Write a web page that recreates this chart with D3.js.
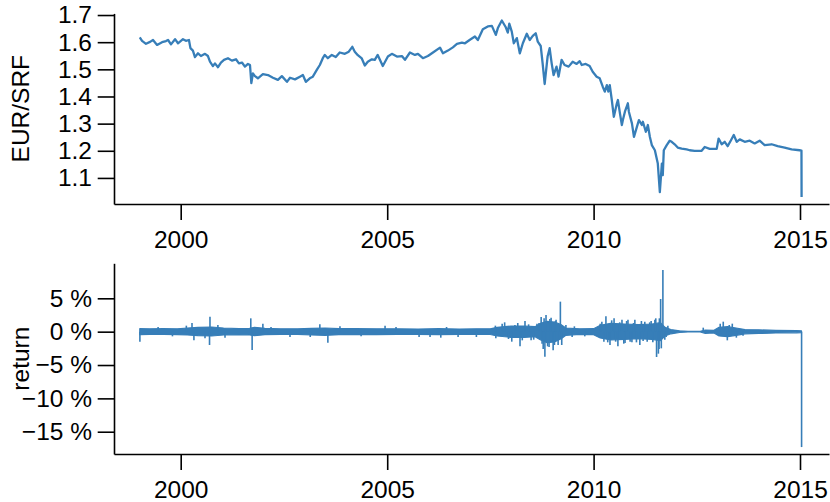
<!DOCTYPE html>
<html>
<head>
<meta charset="utf-8">
<script src="https://cdn.jsdelivr.net/npm/d3@7"></script>
<style>
  body { margin: 0; background: #fff; }
  text { font-family: "Liberation Sans", Arial, Helvetica, sans-serif; }
</style>
</head>
<body>
<svg id="chart" width="830" height="502"></svg>
<script>
// EUR/CHF daily rate, sampled along its course
const priceDates = [
  "1999-01-04","1999-01-24","1999-02-28","1999-04-05","1999-05-01","1999-06-06","1999-07-20","1999-08-24",
  "1999-09-11","1999-10-07","1999-11-12","1999-12-08","2000-01-21","2000-02-16","2000-03-14","2000-03-27",
  "2000-04-18","2000-05-06","2000-06-02","2000-06-28","2000-08-03","2000-08-29","2000-09-16","2000-10-12",
  "2000-10-30","2000-11-26","2000-12-22","2001-01-18","2001-02-22","2001-03-29","2001-05-04","2001-05-30",
  "2001-06-26","2001-07-22","2001-08-18","2001-09-05","2001-09-17","2001-10-01","2001-10-19","2001-11-14",
  "2001-12-28","2002-02-11","2002-03-27","2002-05-10","2002-06-14","2002-07-29","2002-08-25","2002-10-08",
  "2002-11-21","2002-12-17","2003-01-12","2003-02-16","2003-03-15","2003-04-19","2003-05-16","2003-06-11",
  "2003-06-29","2003-07-26","2003-08-30","2003-10-04","2003-11-08","2003-12-23","2004-01-27","2004-02-27",
  "2004-03-20","2004-04-16","2004-05-21","2004-06-17","2004-07-13","2004-08-18","2004-09-13","2004-10-09",
  "2004-11-23","2005-01-07","2005-02-11","2005-03-28","2005-05-11","2005-06-07","2005-07-21","2005-09-03",
  "2005-09-30","2005-11-13","2005-12-27","2006-02-10","2006-04-13","2006-05-09","2006-06-22","2006-08-05",
  "2006-09-10","2006-10-24","2006-11-20","2007-01-03","2007-02-16","2007-03-14","2007-04-27","2007-06-10",
  "2007-07-16","2007-08-20","2007-09-07","2007-10-12","2007-11-16","2007-12-04","2007-12-17","2008-01-08",
  "2008-01-26","2008-02-22","2008-03-19","2008-04-15","2008-05-20","2008-06-15","2008-07-12","2008-08-07",
  "2008-08-25","2008-09-20","2008-10-07","2008-10-25","2008-11-20","2008-12-08","2008-12-26","2009-01-12",
  "2009-02-07","2009-02-25","2009-03-24","2009-04-19","2009-05-25","2009-06-30","2009-08-04","2009-08-31",
  "2009-09-18","2009-10-23","2009-11-27","2009-12-24","2010-01-28","2010-02-24","2010-03-23","2010-04-10",
  "2010-04-28","2010-05-11","2010-05-24","2010-06-11","2010-06-29","2010-07-26","2010-08-04","2010-08-22",
  "2010-09-08","2010-09-17","2010-10-05","2010-10-31","2010-11-09","2010-12-06","2010-12-24","2011-01-19",
  "2011-02-06","2011-03-04","2011-03-13","2011-04-08","2011-04-26","2011-05-14","2011-05-31","2011-06-27",
  "2011-07-23","2011-08-10","2011-08-28","2011-09-05","2011-09-14","2011-10-10","2011-11-05","2011-11-23",
  "2011-12-19","2012-01-15","2012-02-19","2012-04-03","2012-04-30","2012-06-13","2012-08-14","2012-09-10",
  "2012-10-24","2012-12-25","2013-01-11","2013-02-07","2013-03-06","2013-04-01","2013-04-28","2013-05-25",
  "2013-06-20","2013-07-17","2013-08-30","2013-10-13","2013-11-26","2014-01-09","2014-02-22","2014-04-25",
  "2014-06-17","2014-08-18","2014-10-19","2014-12-29","2015-01-14","2015-01-15"
];
const priceValues = [
  1.618,1.605,1.594,1.601,1.608,1.590,1.600,1.604,
  1.608,1.592,1.611,1.596,1.611,1.605,1.608,1.578,
  1.569,1.545,1.559,1.549,1.557,1.549,1.528,1.512,
  1.522,1.508,1.525,1.535,1.541,1.532,1.537,1.522,
  1.525,1.510,1.520,1.516,1.449,1.485,1.475,1.467,
  1.482,1.479,1.469,1.461,1.475,1.454,1.469,1.463,
  1.473,1.479,1.454,1.467,1.473,1.498,1.516,1.541,
  1.553,1.541,1.553,1.545,1.562,1.557,1.565,1.583,
  1.565,1.552,1.540,1.514,1.528,1.537,1.535,1.553,
  1.512,1.547,1.557,1.547,1.549,1.535,1.562,1.553,
  1.557,1.541,1.549,1.562,1.580,1.559,1.569,1.581,
  1.594,1.598,1.596,1.609,1.621,1.608,1.648,1.658,
  1.660,1.627,1.652,1.680,1.655,1.635,1.668,1.639,
  1.596,1.615,1.559,1.596,1.631,1.608,1.623,1.633,
  1.602,1.586,1.522,1.446,1.547,1.578,1.522,1.479,
  1.510,1.473,1.535,1.516,1.510,1.528,1.520,1.530,
  1.516,1.520,1.512,1.491,1.473,1.467,1.436,1.418,
  1.442,1.418,1.442,1.387,1.325,1.375,1.387,1.338,
  1.295,1.313,1.344,1.375,1.344,1.301,1.251,1.288,
  1.313,1.295,1.307,1.270,1.295,1.251,1.221,1.202,
  1.153,1.048,1.153,1.110,1.202,1.221,1.237,1.233,
  1.224,1.212,1.208,1.205,1.202,1.200,1.200,1.214,
  1.207,1.207,1.245,1.224,1.233,1.217,1.237,1.258,
  1.233,1.242,1.233,1.237,1.227,1.237,1.221,1.224,
  1.217,1.212,1.205,1.202,1.201,1.030
];

// Daily returns in %: the usual day-to-day band ...
const bandDates = [
  "1999-01-04","1999-04-01","1999-08-01","1999-12-01","2000-03-01","2000-06-01","2000-10-01","2001-01-15",
  "2001-06-01","2001-09-01","2001-10-15","2002-01-15","2002-06-01","2002-11-01","2003-03-01","2003-07-01",
  "2003-11-01","2004-04-01","2004-10-01","2005-04-01","2005-10-01","2006-04-01","2006-10-01","2007-03-01",
  "2007-07-01","2007-09-01","2008-01-01","2008-05-01","2008-08-01","2008-09-20","2008-11-15","2009-01-20",
  "2009-03-20","2009-05-01","2009-09-01","2010-01-01","2010-03-01","2010-06-01","2010-10-01","2011-02-01",
  "2011-06-01","2011-08-15","2011-09-25","2011-11-15","2012-02-01","2012-04-15","2012-08-01","2012-09-15",
  "2012-12-01","2013-01-15","2013-04-01","2013-06-15","2013-09-01","2014-01-01","2014-06-01","2014-12-01",
  "2015-01-14"
];
const bandHigh = [
  0.45,0.42,0.45,0.42,0.55,0.65,0.70,0.55,
  0.45,0.50,0.65,0.50,0.42,0.42,0.50,0.55,
  0.45,0.45,0.42,0.42,0.40,0.45,0.40,0.42,
  0.42,0.65,0.85,0.85,0.75,1.25,1.55,1.45,
  1.05,0.55,0.42,0.45,0.95,1.25,1.15,1.05,
  1.15,1.35,0.65,0.32,0.12,0.05,0.05,0.25,
  0.20,0.65,0.75,0.55,0.32,0.27,0.20,0.17,
  0.14
];
const bandLow = [
  -0.45,-0.42,-0.42,-0.45,-0.50,-0.60,-0.65,-0.50,
  -0.45,-0.50,-0.60,-0.45,-0.42,-0.42,-0.50,-0.55,
  -0.45,-0.45,-0.45,-0.42,-0.42,-0.45,-0.40,-0.42,
  -0.42,-0.65,-0.85,-0.85,-0.75,-1.25,-1.65,-1.55,
  -1.05,-0.55,-0.42,-0.45,-0.95,-1.25,-1.15,-1.05,
  -1.15,-1.35,-0.65,-0.32,-0.12,-0.05,-0.05,-0.25,
  -0.20,-0.65,-0.75,-0.55,-0.32,-0.27,-0.20,-0.17,
  -0.14
];
// ... and the single days that reach beyond it
const spikeDates = [
  "1999-01-05","1999-06-15","1999-10-20","2000-02-20","2000-04-10","2000-04-27","2000-08-03","2000-09-12",
  "2000-09-16","2000-11-25","2001-01-27","2001-09-12","2001-09-24","2001-12-28","2002-03-10","2002-08-25",
  "2003-02-20","2003-05-16","2003-07-26","2003-11-10","2004-05-15","2004-12-13","2005-03-20","2005-10-10",
  "2006-01-15","2006-04-20","2006-06-10","2006-09-20","2007-03-01","2007-08-16","2007-08-20","2007-10-15",
  "2007-11-06","2007-12-10","2008-01-08","2008-02-05","2008-03-01","2008-03-21","2008-04-10","2008-05-04",
  "2008-06-05","2008-06-27","2008-07-20","2008-08-18","2008-09-05","2008-09-24","2008-10-02","2008-10-12",
  "2008-10-20","2008-10-27","2008-11-06","2008-11-20","2008-12-03","2008-12-10","2008-12-21","2009-01-08",
  "2009-01-20","2009-01-28","2009-02-03","2009-02-21","2009-03-13","2009-03-25","2009-05-01","2009-06-25",
  "2009-07-15","2009-10-15","2010-02-28","2010-03-15","2010-04-02","2010-04-20","2010-05-06","2010-05-26",
  "2010-06-10","2010-07-01","2010-07-15","2010-08-04","2010-08-20","2010-09-09","2010-09-25","2010-10-06",
  "2010-10-20","2010-11-01","2010-11-20","2010-12-06","2010-12-20","2011-01-01","2011-01-15","2011-02-14",
  "2011-02-28","2011-03-15","2011-03-30","2011-04-20","2011-05-12","2011-05-25","2011-06-09","2011-06-27",
  "2011-07-05","2011-07-12","2011-07-28","2011-08-03","2011-08-06","2011-08-17","2011-08-23","2011-09-06",
  "2011-09-23","2011-10-05","2011-10-20","2012-08-28","2013-01-25","2013-02-21","2013-03-29","2013-04-15",
  "2013-05-12","2013-06-17","2013-08-15","2015-01-15"
];
const spikeValues = [
  -1.5, 0.7,-0.7, 0.9, 1.3,-1.3,-1.0,-2.0,
   2.25, 1.0,-0.9, 2.0,-2.75, 1.2, 0.7,-0.8,
  -0.8, 1.1,-1.65, 0.8,-0.7, 0.9, 0.7,-0.8,
  -0.8,-0.9, 0.7,-0.8,-0.8, 0.9,-1.0, 1.2,
   1.4,-1.1,-1.5, 1.0, 1.3,-2.2,-1.3, 1.6,
   1.1,-1.3,-1.2, 1.2, 1.3, 2.2,-1.8,-2.6,
   2.0,-3.75, 2.5,-2.2,-2.3, 1.9, 2.1,-2.8,
  -2.0, 1.6, 1.8,-2.0, 4.5,-2.0, 1.0,-0.8,
   0.8,-0.7, 1.2, 1.5,-1.5, 2.3,-1.6,-2.0,
   1.7, 2.0,-1.5,-2.2, 1.4, 1.8,-1.8,-1.7,
   1.6, 1.8,-1.5,-1.6, 1.3, 1.8,-1.6,-2.0,
   1.6,-1.4, 1.5,-1.5, 1.4, 1.6,-1.6, 1.8,
   2.0,-3.8,-3.3,-2.6, 2.0, 4.9,-2.5, 9.25,
  -1.2,-0.8, 0.9, 0.6, 1.2, 1.5,-1.3, 1.0,
   1.2,-0.9,-0.6,-17.3
];

const yearTicks = [2000, 2005, 2010, 2015];
const priceTicks = [1.1, 1.2, 1.3, 1.4, 1.5, 1.6, 1.7];
const returnTicks = [5, 0, -5, -10, -15];

const parse = d3.timeParse("%Y-%m-%d");
const blue = "#377eb8";
const fontSize = 24.5;
const svg = d3.select("#chart");

// Shared time axis: the year ticks sit at fixed pixel spots, the plot box is wider
const xLeft = 114, xRight = 829;
const x = d3.scaleTime()
  .domain([new Date(2000, 0, 1), new Date(2015, 0, 1)])
  .range([180.7, 800]);
x.domain([x.invert(xLeft), x.invert(xRight)]).range([xLeft, xRight]);

const panels = [
  { top: 13.4, bottom: 204, domain: [1.004, 1.706], ticks: priceTicks,
    fmt: d => d.toFixed(1), label: "EUR/SRF" },
  { top: 263.3, bottom: 454, domain: [-18.34, 10.25], ticks: returnTicks,
    fmt: d => (d < 0 ? "\u2212" + Math.abs(d) : d) + " %", label: "return" }
];

panels.forEach(p => {
  p.y = d3.scaleLinear().domain(p.domain).range([p.bottom, p.top]);
  const g = svg.append("g");

  const yAxis = g.append("g")
    .attr("transform", `translate(${xLeft},0)`)
    .call(d3.axisLeft(p.y).tickValues(p.ticks).tickFormat(p.fmt)
      .tickSize(16.3).tickSizeOuter(0).tickPadding(5.7));

  const xAxis = g.append("g")
    .attr("transform", `translate(0,${p.bottom})`)
    .call(d3.axisBottom(x)
      .tickValues(yearTicks.map(yr => new Date(yr, 0, 1)))
      .tickFormat(d3.timeFormat("%Y"))
      .tickSize(16).tickSizeOuter(0).tickPadding(11));

  [yAxis, xAxis].forEach(a => {
    a.selectAll("path, line").attr("stroke", "#000").attr("stroke-width", 1.6);
    a.selectAll("text").attr("fill", "#000").style("font-size", fontSize + "px");
  });

  g.append("text")
    .attr("transform", `translate(28.5,${(p.top + p.bottom) / 2}) rotate(-90)`)
    .attr("text-anchor", "middle")
    .style("font-size", fontSize + "px")
    .attr("fill", "#000")
    .text(p.label);
});

// Top panel: exchange rate
const price = priceDates.map((d, i) => ({ date: parse(d), v: priceValues[i] }));
svg.append("path")
  .datum(price)
  .attr("fill", "none")
  .attr("stroke", blue)
  .attr("stroke-width", 2.3)
  .attr("stroke-linejoin", "round")
  .attr("d", d3.line().x(d => x(d.date)).y(d => panels[0].y(d.v)));

// Bottom panel: return band plus the outlying days
const yR = panels[1].y;
const band = bandDates.map((d, i) => ({ date: parse(d), hi: bandHigh[i], lo: bandLow[i] }));
svg.append("path")
  .datum(band)
  .attr("fill", blue)
  .attr("stroke", blue)
  .attr("stroke-width", 1.2)
  .attr("stroke-linejoin", "round")
  .attr("d", d3.area()
    .x(d => x(d.date))
    .y0(d => yR(d.lo))
    .y1(d => yR(d.hi)));

svg.append("g")
  .selectAll("line")
  .data(spikeDates.map((d, i) => ({ date: parse(d), v: spikeValues[i] })))
  .join("line")
  .attr("x1", d => x(d.date))
  .attr("x2", d => x(d.date))
  .attr("y1", yR(0))
  .attr("y2", d => yR(d.v))
  .attr("stroke", blue)
  .attr("stroke-width", 1.6);
</script>
</body>
</html>
